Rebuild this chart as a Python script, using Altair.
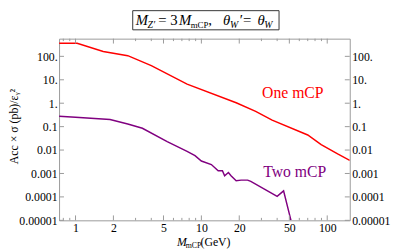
import altair as alt
import pandas as pd

# ---- data ----
red_x = [0.74, 1.03, 1.66, 2.6, 4.0, 7.7, 18.9, 27, 36.5, 70, 89.5, 121, 151]
red_y = [360, 360, 162, 107, 40, 6.5, 1.05, 0.45, 0.19, 0.044, 0.017, 0.0068, 0.0036]

purple_x = [0.74, 1.0, 1.88, 2.6, 3.4, 5.35, 7.7, 8.9, 10, 12, 13.6, 14.7, 15.3,
            16.4, 17.2, 18.9, 20.7, 23.3, 24.7, 40, 45, 51.5]
purple_y = [0.28, 0.25, 0.2, 0.13, 0.085, 0.023, 0.0088, 0.0058, 0.0034, 0.0024,
            0.0013, 0.0013, 0.0008, 0.0011, 0.0008, 0.00049, 0.00052, 0.00052,
            0.00046, 0.000105, 0.00018, 0.00001]

series_names = ["One mCP", "Two mCP"]
series_colors = ["#ff0000", "#800080"]

x_major = [1, 2, 5, 10, 20, 50, 100]
x_labels = ["1", "2", "5", "10", "20", "50", "100"]
x_minor = [0.8, 0.9, 3, 4, 6, 7, 8, 9, 30, 40, 60, 70, 80, 90]
y_major = [1e-5, 1e-4, 1e-3, 1e-2, 1e-1, 1, 10, 100]
y_labels = ["0.00001", "0.0001", "0.001", "0.01", "0.1", "1.", "10.", "100."]

W, H = 296, 185
FONT = "Liberation Serif"
FRAME = "#9a9a9a"


def label_expr(vals, labs):
    return " : ".join(f"datum.value == {v:.5f} ? '{l}'" for v, l in zip(vals, labs)) + " : ''"


lines = pd.DataFrame(
    {"m": red_x + purple_x,
     "v": red_y + purple_y,
     "s": [series_names[0]] * len(red_x) + [series_names[1]] * len(purple_x)}
)

xscale = alt.Scale(type="log", domain=[0.74, 151], nice=False)
yscale = alt.Scale(type="log", domain=[1e-5, 570], nice=False)

line_layer = alt.Chart(lines).mark_line(clip=True, strokeWidth=1.5).encode(
    x=alt.X("m:Q", scale=xscale,
            axis=alt.Axis(values=x_major, labelExpr=label_expr(x_major, x_labels),
                          ticks=False, domain=False, grid=False, title=None,
                          labelFont=FONT, labelFontSize=12, labelPadding=2,
                          labelColor="black")),
    y=alt.Y("v:Q", scale=yscale,
            axis=alt.Axis(values=y_major, labelExpr=label_expr(y_major, y_labels),
                          ticks=False, domain=False, grid=False,
                          title="Acc × σ (pb)/εᵧ²", titleFont=FONT, titleFontSize=12,
                          titleFontWeight="normal", titleAngle=270, titleX=-46, titleY=89,
                          titleAlign="center", titleBaseline="middle",
                          labelFont=FONT, labelFontSize=12, labelPadding=2,
                          labelColor="black")),
    color=alt.Color("s:N", scale=alt.Scale(domain=series_names, range=series_colors),
                    legend=None),
    detail="s:N",
)

ymaj = pd.DataFrame({"t": y_major})
xmaj = pd.DataFrame({"t": x_major})
xmin = pd.DataFrame({"t": x_minor})

right_ticks = alt.Chart(ymaj).mark_rule(color=FRAME).encode(
    y=alt.Y("t:Q", scale=yscale,
            axis=alt.Axis(orient="right", values=y_major,
                          labelExpr=label_expr(y_major, y_labels),
                          ticks=False, domain=False, grid=False, title=None,
                          labelFont=FONT, labelFontSize=12, labelPadding=2,
                          labelColor="black")),
    x=alt.value(W - 5), x2=alt.value(W),
)
left_ticks = alt.Chart(ymaj).mark_rule(color=FRAME).encode(
    y=alt.Y("t:Q", scale=yscale, axis=None),
    x=alt.value(0), x2=alt.value(5),
)
bottom_major = alt.Chart(xmaj).mark_rule(color=FRAME).encode(
    x=alt.X("t:Q", scale=xscale, axis=None), y=alt.value(H), y2=alt.value(H - 5))
top_major = alt.Chart(xmaj).mark_rule(color=FRAME).encode(
    x=alt.X("t:Q", scale=xscale, axis=None), y=alt.value(0), y2=alt.value(5))
bottom_minor = alt.Chart(xmin).mark_rule(color=FRAME).encode(
    x=alt.X("t:Q", scale=xscale, axis=None), y=alt.value(H), y2=alt.value(H - 2.5))
top_minor = alt.Chart(xmin).mark_rule(color=FRAME).encode(
    x=alt.X("t:Q", scale=xscale, axis=None), y=alt.value(0), y2=alt.value(2.5))

one = pd.DataFrame({"a": [0]})


def txt(s, x, y, size, color="black", style="normal", align="left", baseline="alphabetic"):
    return alt.Chart(one).mark_text(
        text=s, font=FONT, fontSize=size, fontStyle=style, color=color,
        align=align, baseline=baseline,
    ).encode(x=alt.value(x), y=alt.value(y))


# series labels
labels = [
    txt(series_names[0], 238, 55, 16, series_colors[0], align="center", baseline="middle"),
    txt(series_names[1], 240, 136, 16, series_colors[1], align="center", baseline="middle"),
]

# boxed title
box = alt.Chart(one).mark_rect(fill="white", stroke="#333333", strokeWidth=1).encode(
    x=alt.value(75), x2=alt.value(224), y=alt.value(-28.5), y2=alt.value(-9))
BL, SB = -13.5, -10.5
title_parts = [
    txt("M", 78, BL, 15, style="italic"),
    txt("Z′", 90, SB, 10, style="italic"),
    txt("= 3", 101, BL, 15),
    txt("M", 122, BL, 15, style="italic"),
    txt("mCP", 134, SB, 9),
    txt(",", 152, BL, 15),
    txt("θ", 167, BL, 15, style="italic"),
    txt("W", 174, SB, 10, style="italic"),
    txt("′=", 184, BL, 15),
    txt("θ", 202, BL, 15, style="italic"),
    txt("W", 209, SB, 10, style="italic"),
]

# x-axis title
xtitle = [
    txt("M", 120, 211, 12, style="italic"),
    txt("mCP", 129, 213.5, 8),
    txt("(GeV)", 144, 211, 12),
]

chart = alt.layer(
    line_layer, right_ticks, left_ticks, bottom_major, top_major, bottom_minor, top_minor,
    *labels, box, *title_parts, *xtitle,
).resolve_axis(x="independent", y="independent").properties(
    width=W, height=H,
    padding={"left": 52, "top": 29, "right": 42, "bottom": 28},
    autosize=alt.AutoSizeParams(type="none"),
).configure_view(stroke=FRAME, strokeWidth=1)

chart.save("out.html", embed_options={"renderer": "svg", "actions": False})
